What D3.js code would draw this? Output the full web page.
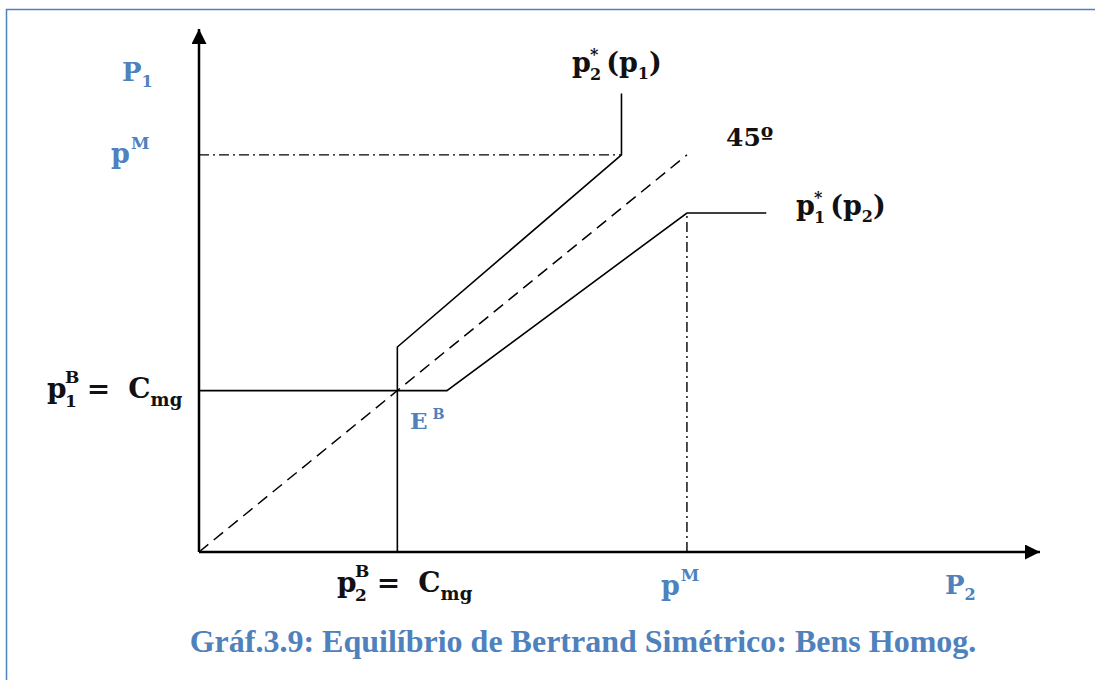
<!DOCTYPE html>
<html>
<head>
<meta charset="utf-8">
<script src="https://cdn.jsdelivr.net/npm/d3@7"></script>
<style>
  html, body { margin: 0; padding: 0; background: #fff; }
  svg { display: block; }
  .lbl { font-family: "DejaVu Serif", serif; font-weight: bold; }
</style>
</head>
<body>
<div id="chart"></div>
<script>
// valores (unidades: Cmg = 1)
const cmg = 1;
const pM = 2.46;
const axisMax = [4.24, 3.24]; // [p2, p1]

// pontos [p2, p1]
const bestResp2 = [[1, 0], [1, 1.27], [2.13, pM], [2.13, 2.84]];   // p2*(p1)
const bestResp1 = [[0, 1], [1.25, 1], [pM, 2.10], [2.86, 2.10]];   // p1*(p2)
const line45 = [[0, 0], [pM, pM]];
const guideH = [[0, pM], [2.13, pM]];
const guideV = [[pM, 0], [pM, 2.10]];

const W = 1095, H = 680;
const blue = "#4f81bd";
const ink = "#111";

const svg = d3.select("#chart").append("svg")
    .attr("width", W).attr("height", H);

// moldura
svg.append("path")
    .attr("d", `M6.5,${H} V9.5 H${W}`)
    .attr("fill", "none")
    .attr("stroke", blue)
    .attr("stroke-width", 1.5);

const x = d3.scaleLinear().domain([0, axisMax[0]]).range([199, 1040]);
const y = d3.scaleLinear().domain([0, axisMax[1]]).range([552, 29]);

svg.append("defs").append("marker")
    .attr("id", "arrow")
    .attr("viewBox", "0 0 10 10")
    .attr("refX", 10).attr("refY", 5)
    .attr("markerWidth", 6).attr("markerHeight", 6)
    .attr("markerUnits", "strokeWidth")
    .attr("orient", "auto")
    .append("path")
    .attr("d", "M0,0 L10,5 L0,10 z")
    .attr("fill", "#000");

const line = d3.line().x(d => x(d[0])).y(d => y(d[1]));

// eixos
svg.append("path")
    .attr("d", line([[0, 0], [axisMax[0], 0]]))
    .attr("stroke", "#000").attr("stroke-width", 2.5)
    .attr("marker-end", "url(#arrow)");
svg.append("path")
    .attr("d", line([[0, 0], [0, axisMax[1]]]))
    .attr("stroke", "#000").attr("stroke-width", 2.5)
    .attr("marker-end", "url(#arrow)");

// guias traço-ponto
[guideH, guideV].forEach(g => {
    svg.append("path")
        .attr("d", line(g))
        .attr("fill", "none")
        .attr("stroke", "#000").attr("stroke-width", 1.4)
        .attr("stroke-dasharray", "10 4 2 4");
});

// 45 graus
svg.append("path")
    .attr("d", line(line45))
    .attr("fill", "none")
    .attr("stroke", "#000").attr("stroke-width", 1.5)
    .attr("stroke-dasharray", "12 7");

// funções de reação
[bestResp2, bestResp1].forEach(r => {
    svg.append("path")
        .attr("d", line(r))
        .attr("fill", "none")
        .attr("stroke", "#000").attr("stroke-width", 1.6);
});

// rótulos
function label(px, py, parts, color, size) {
    const t = svg.append("text")
        .attr("class", "lbl")
        .attr("x", px).attr("y", py)
        .attr("fill", color)
        .style("font-size", size + "px");
    parts.forEach(p => {
        const s = t.append("tspan").text(p.t);
        if (p.sub) s.attr("dy", p.dy).style("font-size", (size * 0.62) + "px");
        if (p.dx) s.attr("dx", p.dx);
    });
    return t;
}

label(122, 81, [{ t: "P" }, { t: "1", sub: true, dy: 6 }], blue, 26);
label(111, 163, [{ t: "p" }, { t: "M", sub: true, dy: -14, dx: 1 }], blue, 27);
label(x(pM) - 26, 595, [{ t: "p" }, { t: "M", sub: true, dy: -14, dx: 1 }], blue, 27);
label(945, 594, [{ t: "P" }, { t: "2", sub: true, dy: 6 }], blue, 26);
label(410, 429, [{ t: "E" }, { t: "B", sub: true, dy: -10, dx: 5 }], blue, 23);

function eqLabel(px, py, idx) {
    const t = svg.append("text")
        .attr("class", "lbl")
        .attr("x", px).attr("y", py)
        .attr("fill", ink)
        .style("font-size", "28px");
    t.append("tspan").text("p");
    const sx = px + 18;
    t.append("tspan").attr("x", sx).attr("dy", -15).style("font-size", "17px").text("B");
    t.append("tspan").attr("x", sx).attr("dy", 24).style("font-size", "17px").text(idx);
    t.append("tspan").attr("dy", -9).attr("dx", 10).text("=");
    t.append("tspan").attr("dx", 18).text("C");
    t.append("tspan").attr("dy", 8).style("font-size", "18px").text("mg");
}
eqLabel(47, 398, "1");
eqLabel(337, 592, "2");

function brLabel(px, py, i, j) {
    const t = svg.append("text")
        .attr("class", "lbl")
        .attr("x", px).attr("y", py)
        .attr("fill", ink)
        .style("font-size", "27px");
    t.append("tspan").text("p");
    const sx = px + 18;
    t.append("tspan").attr("x", sx).attr("dy", -12).style("font-size", "16px").text("*");
    t.append("tspan").attr("x", sx).attr("dy", 20).style("font-size", "16px").text(i);
    t.append("tspan").attr("dy", -8).attr("dx", 5).text("(p");
    t.append("tspan").attr("dy", 7).style("font-size", "16px").text(j);
    t.append("tspan").attr("dy", -7).text(")");
}
brLabel(572, 72, "2", "1");
brLabel(796, 215, "1", "2");

svg.append("text")
    .attr("class", "lbl")
    .attr("x", 726).attr("y", 146)
    .attr("fill", ink)
    .style("font-size", "25px")
    .text("45º");

// título
svg.append("text")
    .attr("x", 583).attr("y", 652)
    .attr("text-anchor", "middle")
    .attr("fill", blue)
    .style("font-family", "'Liberation Serif', 'Times New Roman', serif")
    .style("font-weight", "bold")
    .style("font-size", "32px")
    .text("Gráf.3.9: Equilíbrio de Bertrand Simétrico: Bens Homog.");
</script>
</body>
</html>
